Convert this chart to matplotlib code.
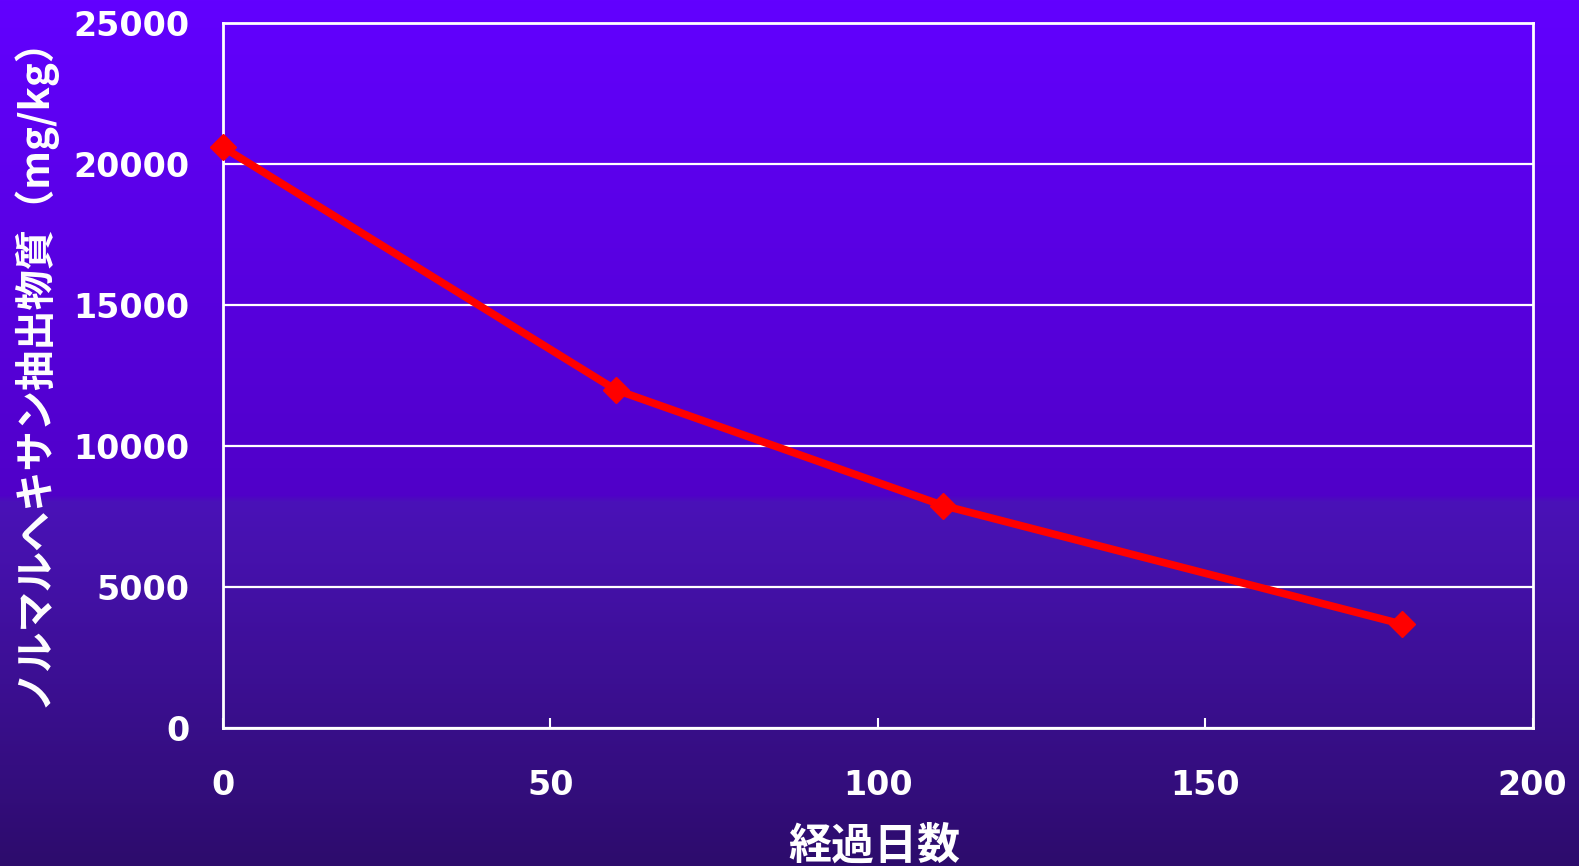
import matplotlib
matplotlib.use("Agg")
import matplotlib.pyplot as plt
import numpy as np

plt.rcParams["font.family"] = ["Noto Sans CJK JP", "DejaVu Sans"]

# elapsed days vs. n-hexane extractable matter
days = [0, 60, 110, 180]
extract = [20600, 12000, 7900, 3700]

x_ticks = [0, 50, 100, 150, 200]
y_ticks = [0, 5000, 10000, 15000, 20000, 25000]

fig = plt.figure(figsize=(15.79, 8.66), dpi=100)

# vertical purple gradient behind everything
stops = [0.0, 0.572, 0.58, 1.0]
cols = np.array([
    [98, 0, 255],
    [80, 0, 200],
    [74, 18, 184],
    [45, 12, 108],
]) / 255.0
yy = np.linspace(0, 1, 866)
grad = np.stack([np.interp(yy, stops, cols[:, i]) for i in range(3)], axis=1)
bg = fig.add_axes([0, 0, 1, 1], zorder=-10)
bg.imshow(grad[:, None, :], aspect="auto", extent=[0, 1, 0, 1], origin="upper")
bg.axis("off")

ax = fig.add_axes([0.1412, 0.1588, 0.9706 - 0.1412, 0.9734 - 0.1588])
ax.patch.set_alpha(0)

ax.plot(days, extract, color="#ff0000", lw=5.5, marker="D", ms=13,
        solid_joinstyle="round", zorder=3, clip_on=False)

ax.set_xlim(0, 200)
ax.set_ylim(0, 25000)
ax.set_xticks(x_ticks)
ax.set_yticks(y_ticks)
ax.yaxis.grid(True, color="white", lw=1.6)
ax.set_axisbelow(True)

for s in ax.spines.values():
    s.set_color("white")
    s.set_linewidth(2)

ax.tick_params(axis="x", direction="in", length=7, width=1.5, color="white",
               labelcolor="white", labelsize=24, pad=29)
ax.tick_params(axis="y", length=0, labelcolor="white", labelsize=24, pad=24)
for lab in ax.get_xticklabels() + ax.get_yticklabels():
    lab.set_fontfamily("DejaVu Sans")
    lab.set_fontweight("bold")

fig.text(0.5536, 0.023, "経過日数", color="white", fontsize=31,
         fontweight="bold", ha="center", va="center")
fig.text(0.021, 0.5826, "ノルマルヘキサン抽出物質（mg/kg）", color="white",
         fontsize=29, fontweight="bold", rotation=90, ha="center", va="center")

fig.savefig("out.png", dpi=100)
